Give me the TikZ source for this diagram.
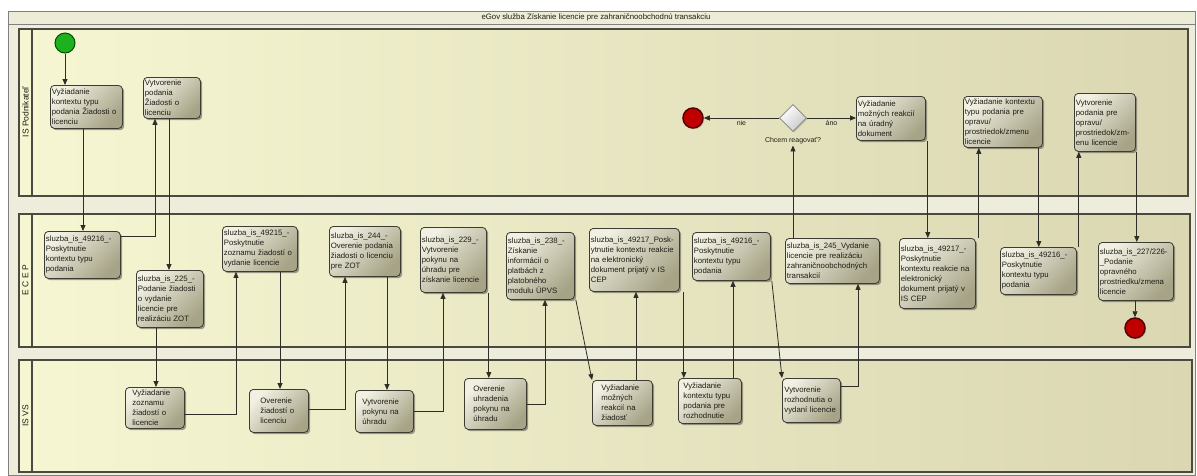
\documentclass[tikz,border=0pt]{standalone}
\usepackage{fontspec}
\setmainfont{Liberation Sans}
\usetikzlibrary{shapes.geometric,shadows,arrows.meta,calc}
\definecolor{laneL}{HTML}{F6F6D2}
\definecolor{laneR}{HTML}{DAD7B2}
\definecolor{outerbg}{HTML}{EEEDDB}
\definecolor{titlebg}{HTML}{EDECD6}
\definecolor{boxL}{HTML}{F1F0E2}
\definecolor{boxR}{HTML}{A6A386}
\definecolor{boxbd}{HTML}{3C3C32}
\definecolor{linec}{HTML}{2E2E26}
\definecolor{lanebd}{HTML}{4A4A40}
\definecolor{txtc}{HTML}{1E1E16}
\definecolor{startg}{HTML}{1DB11D}
\definecolor{endr}{HTML}{C00000}
\newcommand{\actbox}[7][1.5]{%
  \pgfmathsetmacro{\abtw}{#5-#3-2*#1}%
  \pgfmathsetmacro{\abh}{#6-#4}%
  \node[act, anchor=north west, inner xsep=#1pt, text width=\abtw pt, minimum height=\abh pt] (#2) at (#3,#4) {#7};}
\begin{document}
\begin{tikzpicture}[x=1pt,y=-1pt,
  act/.style={rectangle, rounded corners=4pt, draw=boxbd, line width=0.8pt,
    top color=boxL, bottom color=boxR, shading angle=45,
    drop shadow={shadow xshift=1.8pt, shadow yshift=-1.8pt, opacity=0.5, fill=black!75},
    align=left, inner ysep=2pt, font=\fontsize{7.8}{10}\selectfont, text=txtc},
  arr/.style={draw=linec, line width=0.8pt, -{Triangle[length=6pt,width=5pt]}},
  lanebox/.style={draw=lanebd, line width=1.2pt, left color=laneL, right color=laneR},
  lanelbl/.style={rotate=90, font=\fontsize{8.5}{10}\selectfont, text=txtc},
  startev/.style={circle, minimum size=20pt, inner sep=0pt, fill=startg, draw=green!30!black, line width=1pt},
  endev/.style={circle, minimum size=20pt, inner sep=0pt, fill=endr, draw=endr!45!black, line width=1.5pt,
    drop shadow={shadow xshift=1.2pt, shadow yshift=-1.2pt, opacity=0.4}},
  gate/.style={diamond, minimum size=27pt, inner sep=0pt, draw=black!50, line width=0.8pt,
    top color=white, bottom color=black!22, shading angle=45,
    drop shadow={shadow xshift=1.2pt, shadow yshift=-1.2pt, opacity=0.35}},
  lbl/.style={font=\fontsize{7}{8}\selectfont, text=txtc, inner sep=1pt}
]
\useasboundingbox (0,0) rectangle (1197,475);
% frame
\fill[outerbg] (8,11) rectangle (1195,475);
\draw[black!50, line width=1pt, fill=titlebg] (8,11) rectangle (1195,24);
\draw[black!50, line width=1pt] (8,11) rectangle (1195,475);
\node[lbl, font=\fontsize{7.8}{9}\selectfont] (title) at (596,17.5) {eGov služba Získanie licencie pre zahraničnoobchodnú transakciu};
% lanes
\draw[lanebox] (19,29) rectangle (1188,196);
\draw[lanebd, line width=1.2pt] (32,29) -- (32,196);
\node[lanelbl] (lane1) at (25.5,112) {IS Podnikateľ};
\draw[lanebox] (19,214) rectangle (1190,347);
\draw[lanebd, line width=1.2pt] (32,214) -- (32,347);
\node[lanelbl] (lane2) at (25.5,280) {E C E P};
\draw[lanebox] (19,360) rectangle (1192,472);
\draw[lanebd, line width=1.2pt] (32,360) -- (32,472);
\node[lanelbl] (lane3) at (25.5,416) {IS VS};
% lane 1
\node[startev] (start) at (65,43) {};
\actbox{A1}{50}{85}{122}{128}{Vyžiadanie\\kontextu typu\\podania Žiadosti o\\licenciu}
\actbox{A2}{143}{77}{200}{118}{Vytvorenie\\podania\\Žiadosti o\\licenciu}
\node[endev] (end1) at (693,118) {};
\node[gate] (gw) at (793,118) {};
\node[lbl] (gwlabel) at (793,141) {Chcem reagovať?};
\actbox{A3}{856}{96}{925}{140}{Vyžiadanie\\možných reakcií\\na úradný\\dokument}
\actbox{A4}{963}{96}{1042}{147}{Vyžiadanie kontextu\\typu podania pre\\opravu/\\prostriedok/zmenu\\licencie}
\actbox{A5}{1074}{93}{1135}{151}{Vytvorenie\\podania pre\\opravu/\\prostriedok/zm-\\enu licencie}
% lane 2
\actbox{B1}{44}{231}{120}{278}{sluzba\_is\_49216\_-\\Poskytnutie\\kontextu typu\\podania}
\actbox{B2}{136}{270}{203}{327}{sluzba\_is\_225\_-\\Podanie žiadosti\\o vydanie\\licencie pre\\realizáciu ZOT}
\actbox{B3}{222}{226}{297}{271}{sluzba\_is\_49215\_-\\Poskytnutie\\zoznamu žiadostí o\\vydanie licencie}
\actbox{B4}{329}{226}{400}{276}{sluzba\_is\_244\_-\\Overenie podania\\žiadosti o licenciu\\pre ZOT}
\actbox{B5}{420}{227}{486}{292}{sluzba\_is\_229\_-\\Vytvorenie\\pokynu na\\úhradu pre\\získanie licencie}
\actbox{B6}{506}{232}{574}{299}{sluzba\_is\_238\_-\\Získanie\\informácií o\\platbách z\\platobného\\modulu ÚPVS}
\actbox{B7}{589}{228}{679}{291}{sluzba\_is\_49217\_Posk-\\ytnutie kontextu reakcie\\na elektronický\\dokument prijatý v IS\\CEP}
\actbox{B8}{692}{232}{770}{280}{sluzba\_is\_49216\_-\\Poskytnutie\\kontextu typu\\podania}
\actbox{B9}{785}{238}{879}{283}{sluzba\_is\_245\_Vydanie\\licencie pre realizáciu\\zahraničnoobchodných\\transakcií}
\actbox{B10}{899}{238}{975}{308}{sluzba\_is\_49217\_-\\Poskytnutie\\kontextu reakcie na\\elektronický\\dokument prijatý v\\IS CEP}
\actbox{B11}{1000}{247}{1076}{294}{sluzba\_is\_49216\_-\\Poskytnutie\\kontextu typu\\podania}
\actbox{B12}{1098}{242}{1173}{300}{sluzba\_is\_227/226-\\\_Podanie\\opravného\\prostriedku/zmena\\licencie}
\node[endev] (end2) at (1135,328) {};
% lane 3
\actbox[7]{C1}{125}{387}{184}{428}{Vyžiadanie\\zoznamu\\žiadostí o\\licencie}
\actbox[11]{C2}{249}{389}{308}{432}{Overenie\\žiadostí o\\licenciu}
\actbox[7]{C3}{355}{390}{413}{432}{Vytvorenie\\pokynu na\\úhradu}
\actbox[9]{C4}{464}{378}{526}{429}{Overenie\\uhradenia\\pokynu na\\úhradu}
\actbox[9]{C5}{592}{380}{652}{425}{Vyžiadanie\\možných\\reakcií na\\žiadosť}
\actbox[5]{C6}{678}{378}{741}{423}{Vyžiadanie\\kontextu typu\\podania pre\\rozhodnutie}
\actbox[2]{C7}{782}{378}{840}{422}{Vytvorenie\\rozhodnutia o\\vydaní licencie}
% connectors
\draw[arr] (start) -- (start |- A1.north);
\draw[arr] ([xshift=33pt]A1.south west) -- ([xshift=33pt]A1.south west |- B1.north);
\draw[arr] ([yshift=-5pt]B1.north east) -| ([xshift=12pt]A2.south west);
\draw[arr] ([xshift=26pt]A2.south west) -- ([xshift=26pt]A2.south west |- B2.north);
\draw[arr] ([xshift=20pt]B2.south west) -- ([xshift=20pt]B2.south west |- C1.north);
\draw[arr] ([yshift=-6pt]C1.east) -| ([xshift=14pt]B3.south west);
\draw[arr] ([xshift=58pt]B3.south west) -- ([xshift=58pt]B3.south west |- C2.north);
\draw[arr] ([yshift=2pt]C2.east) -| ([xshift=16pt]B4.south west);
\draw[arr] ([xshift=58pt]B4.south west) -- ([xshift=58pt]B4.south west |- C3.north);
\draw[arr] (C3.east) -| ([xshift=23pt]B5.south west);
\draw[arr] ([xshift=2pt]B5.south east) -- ([xshift=2pt]B5.south east |- C4.north);
\draw[arr] (C4.east) -| ([xshift=39pt]B6.south west);
\draw[arr] ([xshift=1pt]B6.south east) -- (C5.north west);
\draw[arr] ([xshift=44pt]C5.north west) -- ([xshift=44pt]C5.north west |- B7.south);
\draw[arr] ([xshift=4pt]B7.south east) -- ([xshift=4pt]B7.south east |- C6.north);
\draw[arr] ([xshift=55pt]C6.north west) -- ([xshift=55pt]C6.north west |- B8.south);
\draw[arr] ([xshift=1pt]B8.south east) -- (C7.north west);
\draw[arr] ([yshift=-8pt]C7.north east) -| ([xshift=73pt]B9.south west);
\draw[arr] (gw |- B9.north) -- (gw |- gwlabel.south);
\draw[arr] (gw.west) -- (end1.east) node[lbl, midway, below=1pt] (nie) {nie};
\draw[arr] (gw.east) -- (gw.east -| A3.west) node[lbl, midway, below=1pt] (ano) {áno};
\draw[arr] ([xshift=2pt]A3.south east) -- ([xshift=2pt]A3.south east |- B10.north);
\draw[arr] ([xshift=3pt]B10.north east) -- ([xshift=3pt]B10.north east |- A4.south);
\draw[arr] ([xshift=-4pt]A4.south east) -- ([xshift=-4pt]A4.south east |- B11.north);
\draw[arr] ([xshift=2pt]B11.north east) -- ([xshift=2pt]B11.north east |- A5.south);
\draw[arr] ([xshift=1pt]A5.south east) -- ([xshift=1pt]A5.south east |- B12.north);
\draw[arr] (end2 |- B12.south) -- (end2);
\end{tikzpicture}
\end{document}
